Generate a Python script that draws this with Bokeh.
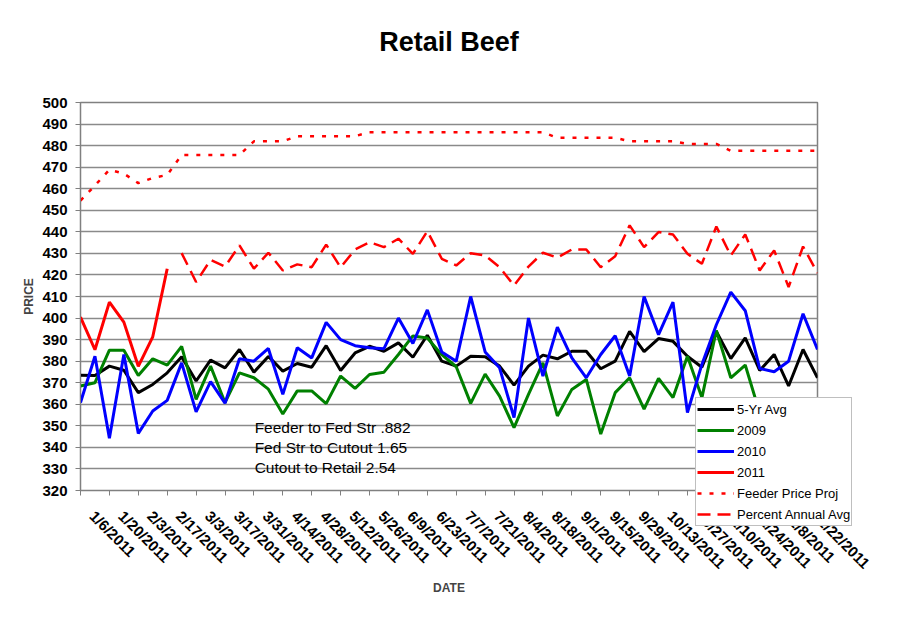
import math
from bokeh.plotting import figure
from bokeh.models import FixedTicker, Range1d, Legend, LegendItem, Label, Title
from bokeh.embed import file_html
from bokeh.resources import INLINE

FONT = "Liberation Sans"

weeks = ["1/6/2011", "1/13/2011", "1/20/2011", "1/27/2011", "2/3/2011", "2/10/2011",
         "2/17/2011", "2/24/2011", "3/3/2011", "3/10/2011", "3/17/2011", "3/24/2011",
         "3/31/2011", "4/7/2011", "4/14/2011", "4/21/2011", "4/28/2011", "5/5/2011",
         "5/12/2011", "5/19/2011", "5/26/2011", "6/2/2011", "6/9/2011", "6/16/2011",
         "6/23/2011", "6/30/2011", "7/7/2011", "7/14/2011", "7/21/2011", "7/28/2011",
         "8/4/2011", "8/11/2011", "8/18/2011", "8/25/2011", "9/1/2011", "9/8/2011",
         "9/15/2011", "9/22/2011", "9/29/2011", "10/6/2011", "10/13/2011", "10/20/2011",
         "10/27/2011", "11/3/2011", "11/10/2011", "11/17/2011", "11/24/2011", "12/1/2011",
         "12/8/2011", "12/15/2011", "12/22/2011", "12/29/2011"]

five_yr_avg = [373.5, 373.4, 377.7, 375.8, 365.4, 369.2, 374.6, 382.0, 370.8, 380.5,
               376.9, 385.4, 374.9, 382.2, 375.4, 378.9, 377.2, 387.2, 375.7, 383.8,
               386.9, 384.6, 388.5, 381.8, 392.0, 380.0, 377.7, 382.3, 382.0, 377.7,
               368.9, 377.7, 382.8, 381.1, 384.6, 384.6, 376.5, 380.0, 393.8, 384.4,
               390.5, 389.2, 382.3, 377.2, 393.8, 381.2, 390.8, 375.7, 383.1, 368.5,
               385.4, 372.3]

y2009 = [368.5, 370.0, 385.1, 385.1, 373.4, 381.1, 378.2, 386.9, 362.3, 377.7,
         360.8, 374.6, 372.3, 367.0, 355.5, 366.2, 366.2, 360.3, 373.1, 367.4,
         373.8, 374.9, 383.1, 391.7, 390.7, 383.0, 377.4, 360.4, 374.0, 363.8,
         349.2, 364.6, 379.2, 354.6, 366.9, 371.5, 346.2, 365.4, 372.3, 357.7,
         372.0, 363.1, 382.3, 363.1, 394.2, 372.3, 378.2, 356.0, 362.5, 352.0,
         357.0, 354.0]

y2010 = [360.8, 382.3, 344.2, 383.1, 346.5, 356.9, 361.8, 379.2, 356.5, 370.5,
         360.5, 381.1, 380.0, 385.9, 364.6, 386.2, 381.5, 398.0, 390.0, 387.2,
         386.2, 385.8, 400.0, 388.2, 403.8, 384.3, 380.0, 410.0, 384.3, 376.9,
         353.8, 400.0, 373.1, 395.8, 381.5, 372.3, 383.1, 391.8, 373.1, 410.0,
         392.3, 407.4, 356.2, 378.5, 396.9, 412.0, 403.4, 376.6, 375.1, 380.0,
         402.0, 385.4]

y2011 = [400.4, 385.3, 407.4, 398.1, 377.6, 391.3, 422.9]

feeder_price_proj = [454.5, 461.5, 468.8, 467.0, 462.6, 465.0, 466.4, 475.7, 475.7, 475.7,
                     475.7, 475.7, 482.0, 482.0, 482.0, 484.4, 484.4, 484.4, 484.4, 484.4,
                     486.2, 486.2, 486.2, 486.2, 486.2, 486.2, 486.2, 486.2, 486.2, 486.2,
                     486.2, 486.2, 486.2, 483.6, 483.6, 483.6, 483.6, 483.6, 482.0, 482.0,
                     482.0, 482.0, 480.8, 480.8, 480.8, 477.6, 477.6, 477.6, 477.6, 477.6,
                     477.6, 477.6]

# starts at week index 7 (2/24/2011)
percent_annual_avg_start = 7
percent_annual_avg = [430.1, 416.7, 427.0, 423.9, 433.7, 422.9, 430.3, 422.1, 424.9, 423.6,
                      434.1, 423.5, 431.8, 435.2, 432.9, 436.8, 429.8, 440.3, 427.5, 424.4,
                      430.1, 429.0, 423.6, 415.1, 423.9, 430.3, 428.0, 431.8, 431.8, 423.6,
                      428.7, 443.0, 432.9, 439.9, 438.8, 429.8, 425.2, 442.5, 429.0, 438.8,
                      422.1, 431.4, 414.4, 433.2, 420.9]

notes = ["Feeder to Fed Str .882", "Fed Str to Cutout 1.65", "Cutout to Retail 2.54"]
y_ticks = list(range(320, 501, 10))

n = len(weeks)
xs = list(range(n))

styles = {
    "5-Yr Avg": dict(line_color="black", line_width=3),
    "2009": dict(line_color="#008000", line_width=3),
    "2010": dict(line_color="#0000ff", line_width=3),
    "2011": dict(line_color="#ff0000", line_width=3),
    "Feeder Price Proj": dict(line_color="#ff0000", line_width=2.5, line_dash="4 8"),
    "Percent Annual Avg": dict(line_color="#ff0000", line_width=2.5, line_dash="13 7"),
}

p = figure(frame_width=737, frame_height=388, output_backend="svg", toolbar_location=None,
           x_range=Range1d(0, n - 1), y_range=Range1d(320, 500),
           min_border_left=80, min_border_right=75, min_border_top=102, min_border_bottom=118,
           background_fill_color="white", border_fill_color="white")

p.title.text = "Retail Beef"
p.title.align = "center"
p.title.text_font = FONT
p.title.text_font_size = "27px"
p.title.text_font_style = "bold"
p.title.text_color = "black"
p.title.standoff = 20
# empty spacer title between the frame and the real title
p.add_layout(Title(text=" ", text_font_size="1px", standoff=33), "above")

p.outline_line_color = "#808080"
p.outline_line_width = 1.5

# grid
p.xgrid.visible = False
p.ygrid.ticker = FixedTicker(ticks=y_ticks)
p.ygrid.grid_line_color = "#8a8a8a"
p.ygrid.grid_line_width = 1.5

# y axis
p.yaxis.ticker = FixedTicker(ticks=y_ticks)
p.yaxis.axis_label = "PRICE"
p.yaxis.axis_label_text_font = FONT
p.yaxis.axis_label_text_font_style = "bold"
p.yaxis.axis_label_text_font_size = "12px"
p.yaxis.axis_label_standoff = 3
p.yaxis.major_label_text_font = FONT
p.yaxis.major_label_text_font_style = "bold"
p.yaxis.major_label_text_font_size = "15px"
p.yaxis.major_label_text_color = "black"
p.yaxis.major_label_standoff = 8
p.yaxis.major_tick_out = 5
p.yaxis.major_tick_in = 0
p.yaxis.minor_tick_line_color = None
p.yaxis.axis_line_color = "#808080"
p.yaxis.major_tick_line_color = "#808080"

# x axis
tick_idx = list(range(0, n - 1, 2))
p.xaxis.ticker = FixedTicker(ticks=tick_idx)
p.xaxis.major_label_overrides = {i: "\u00a0\u00a0\u00a0\u00a0" + weeks[i] for i in tick_idx}
p.xaxis.major_label_orientation = -math.pi / 4
p.xaxis.axis_label = "DATE"
p.xaxis.axis_label_text_font = FONT
p.xaxis.axis_label_text_font_style = "bold"
p.xaxis.axis_label_text_font_size = "12px"
p.xaxis.axis_label_standoff = 0
p.xaxis.major_label_text_font = FONT
p.xaxis.major_label_text_font_style = "bold"
p.xaxis.major_label_text_font_size = "15px"
p.xaxis.major_label_text_color = "black"
p.xaxis.major_label_standoff = 6
p.xaxis.major_tick_out = 5
p.xaxis.major_tick_in = 0
p.xaxis.minor_tick_line_color = None
p.xaxis.axis_line_color = "#808080"
p.xaxis.major_tick_line_color = "#808080"

rs = {}
rs["5-Yr Avg"] = p.line(xs, five_yr_avg, **styles["5-Yr Avg"])
rs["2009"] = p.line(xs, y2009, **styles["2009"])
rs["2010"] = p.line(xs, y2010, **styles["2010"])
rs["2011"] = p.line(xs[:len(y2011)], y2011, **styles["2011"])
rs["Feeder Price Proj"] = p.line(xs, feeder_price_proj, **styles["Feeder Price Proj"])
pa_x = xs[percent_annual_avg_start:percent_annual_avg_start + len(percent_annual_avg)]
rs["Percent Annual Avg"] = p.line(pa_x, percent_annual_avg, **styles["Percent Annual Avg"])

for i, t in enumerate(notes):
    p.add_layout(Label(x=12.05, y=349.0 - 9.05 * i, text=t, text_font=FONT,
                       text_font_size="15.5px", text_baseline="middle", text_color="black"))

# legend in the right side panel (not clipped to the frame), pulled back over the frame
legend = Legend(items=[LegendItem(label=k, renderers=[r]) for k, r in rs.items()],
                location=(-122, -36))
legend.label_text_font = FONT
legend.label_text_font_size = "13px"
legend.label_text_color = "black"
legend.glyph_width = 37
legend.glyph_height = 20
legend.label_height = 20
legend.label_standoff = 3
legend.spacing = 1
legend.padding = 1
legend.margin = -75
legend.border_line_color = "#808080"
legend.border_line_width = 1.5
legend.background_fill_color = "white"
legend.background_fill_alpha = 1.0
p.add_layout(legend, "right")

open("out.html", "w").write(file_html(p, INLINE))
